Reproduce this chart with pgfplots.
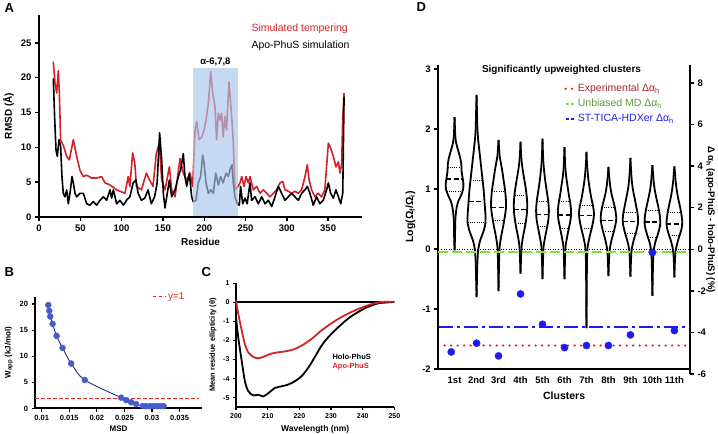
\documentclass[border=0pt]{standalone}
\usepackage{pgfplots}
\usepackage{pgfplotstable}
\pgfplotsset{compat=1.18}
\usepackage{fontspec}
\setmainfont{Liberation Sans}
\definecolor{stred}{RGB}{212,32,42}
\definecolor{rectblue}{RGB}{168,198,236}
\definecolor{bdot}{RGB}{72,92,200}
\definecolor{bline}{RGB}{35,45,140}
\definecolor{dblue}{RGB}{28,28,240}
\definecolor{dgreen}{RGB}{128,226,52}
\definecolor{dgreentext}{RGB}{96,152,56}
\definecolor{dredtext}{RGB}{165,42,42}
\definecolor{dred}{RGB}{232,30,30}
\definecolor{cred}{RGB}{215,35,40}
\newcommand{\tf}[1]{\fontsize{#1}{#1}\selectfont\bfseries}
\pgfplotsset{
  gp/.style={
    scale only axis, anchor=south west,
    axis x line*=bottom, axis y line*=left,
    axis line style={line width=2pt, -},
    tick align=outside, major tick length=4pt,
    tick style={line width=1.4pt, black},
    /pgf/number format/assume math mode=true,
    clip=false,
  },
  vio/.style={black, line width=1.8pt, smooth, tension=0.5, line join=round},
}
\begin{document}
\pgfplotstableread{
r v
17.3 22.3
19.4 19.2
21.4 17.8
23.4 21.0
24.6 17.8
26.2 11.1
29.4 10.3
33.5 8.7
36.7 8.2
41.6 11.1
45.6 8.7
49.6 6.7
53.7 5.8
57.7 6.0
63.7 5.6
69.8 5.6
75.9 5.8
79.9 4.9
86 4.6
94 3.9
98 3.7
104 3.4
108 5.8
110 4.4
113.4 9.2
116 7.7
118 4.4
124 3.9
130 6.3
134 5.3
138 4.4
142 9.1
145.6 10.6
148.5 5.3
152.5 3.9
157.8 7.2
160.6 3.9
164.7 2.9
170.7 8.4
174.7 6.3
178.8 5.3
182.8 6.3
186 4.4
188.9 12.5
190.9 13.7
193.7 11.1
197 11.5
199.8 12.5
202.2 13.9
205 16.3
207.8 20.9
210.2 17.8
213 15.9
215 11.1
217 14.9
219 13.9
221 14.9
223 11.5
225 14.4
227 12.5
230 19.4
232 16.3
233.6 13.9
235.2 10.6
237.2 3.9
241 4.4
243.3 4.9
245.4 5.8
248.2 4.4
250.6 5.8
253.4 4.9
255.4 5.8
259.5 3.9
263.5 4.4
267.6 3.4
271.6 3.9
275.6 3.4
279.6 2.9
283.7 3.4
287.7 3.9
291.7 4.9
295 5.1
297.8 3.9
301.8 3.7
305.8 3.4
309.8 3.7
313.9 3.4
317.9 3.9
322 5.8
324.8 7.5
327 5.3
330 3.9
334 2.9
338 3.4
342 2.9
346 3.9
350.3 10.6
353.1 9.9
356.3 8.7
359.5 7.2
362.4 7.9
364.4 6.3
366.4 7.7
367.7 14.4
369.3 17.8
}\redA
\pgfplotstableread{
r v
17.3 19.9
18.9 14.4
20.6 9.6
22.2 8.7
24.2 11.1
26.2 10.2
27.8 5.8
29.4 3.4
31.5 2.9
33.5 3.9
35.5 1.9
37.5 3.4
40 5.8
41.6 4.9
43.6 3.4
45.6 2.9
49.6 3.4
53.7 3.4
57.7 1.9
61.7 1.7
65.8 2.2
69.8 1.7
73.8 2.4
77.9 2.9
81.9 2.4
86 3.9
87.9 2.7
90 3.9
94 1.9
98 2.4
102 1.7
106 2.4
110 2.9
114 4.9
117.4 5.3
120 3.4
124 2.4
128 2.7
132 3.9
136 1.9
140 2.9
143 4.9
146 12.1
148.5 8.2
150.5 3.4
152.5 1.3
155.3 3.4
157.8 5.3
160.6 2.9
164.7 3.9
168.7 5.8
171.5 6.8
174.7 9.1
176.7 5.8
178.8 4.4
182 6.3
184.8 2.9
186.8 2.2
190 2.4
192.9 4.9
195.7 5.8
198.1 8.9
199.8 7.7
202.2 4.9
205 3.4
207.8 3.9
211 3.4
214 6.3
217 4.6
219.9 5.8
223 4.9
226.4 6.3
229.2 5.8
231.2 6.8
233.6 7.5
235.2 4.9
237.2 2.9
240 1.9
242.5 1.7
244 4.4
246.6 1.9
249.4 2.7
252 1.9
255.4 4.9
257.4 2.4
261.5 2.9
265.5 1.9
269.6 2.9
273.6 1.9
277.6 2.4
281.7 1.5
285.7 2.9
289.7 4.4
293.7 3.4
297.8 2.4
301.8 2.9
305.8 3.4
309.8 2.9
313.9 2.4
317.9 3.4
322 3.9
324.8 4.4
328 3.4
332 1.7
336 2.9
340 1.9
344 2.4
348.2 3.9
350.3 4.9
353.1 3.4
356.3 2.7
359.5 3.9
362.4 2.9
365.2 1.9
367.7 3.4
369.3 17.3
}\blackA
\pgfplotstableread{
m w
0.01120 19.8
0.01138 18.7
0.01156 17.6
0.01198 16.2
0.01270 13.9
0.01378 11.6
0.01535 8.6
0.01781 5.45
0.02441 2.07
0.02532 1.6
0.02622 1.2
0.02712 0.86
0.02832 0.48
0.02892 0.45
0.02964 0.45
0.03030 0.45
0.03090 0.45
0.03150 0.45
0.03210 0.45
}\ptsB
\pgfplotstableread{
l v
200 -0.77
200.7 -1.83
201.8 -3.07
202.8 -4.13
203.9 -4.66
205.5 -4.88
207 -4.84
208.6 -4.93
210.2 -4.76
212.3 -4.49
214.4 -4.40
216.5 -4.31
218.6 -4.13
220.7 -3.87
222.8 -3.43
224.9 -2.86
227 -2.27
229.1 -1.83
232.3 -1.30
235.4 -0.85
238.6 -0.50
241.7 -0.23
244.9 -0.05
248 0.0
250 0.02
}\holoC
\pgfplotstableread{
l v
200 0.09
200.7 -0.59
201.8 -1.47
202.8 -2.18
203.9 -2.63
205.5 -2.86
207 -2.93
208.6 -2.86
210.7 -2.71
212.8 -2.63
215.5 -2.57
218.1 -2.47
220.7 -2.27
223.9 -1.91
227 -1.47
230.2 -1.09
233.3 -0.77
236.5 -0.50
239.7 -0.27
242.8 -0.09
246 0.02
248 0.03
250 0.03
}\apoC
% violin half-width profiles (y, half width in cluster units)
\pgfplotstableread{
y w
-0.02 0
0.2 0.02
0.45 0.03
0.6 0.06
0.7 0.1
0.8 0.17
0.9 0.3
1.0 0.39
1.1 0.40
1.2 0.36
1.3 0.32
1.4 0.31
1.5 0.27
1.6 0.2
1.7 0.12
1.8 0.06
1.9 0.03
2.2 0
}\vA
\pgfplotstableread{
y w
-0.8 0
-0.5 0.02
-0.2 0.04
0 0.08
0.15 0.17
0.3 0.32
0.45 0.41
0.6 0.4
0.8 0.36
1.0 0.32
1.2 0.26
1.4 0.2
1.6 0.14
1.8 0.08
2.0 0.04
2.3 0.02
2.57 0
}\vB
\pgfplotstableread{
y w
-0.7 0
-0.3 0.02
0 0.04
0.1 0.07
0.25 0.14
0.4 0.22
0.55 0.29
0.7 0.34
0.85 0.33
1.0 0.29
1.15 0.23
1.3 0.17
1.45 0.1
1.55 0.05
1.65 0.03
1.82 0
}\vC
\pgfplotstableread{
y w
-0.41 0
-0.1 0.03
0.05 0.05
0.2 0.11
0.35 0.19
0.5 0.26
0.65 0.3
0.8 0.3
0.95 0.26
1.1 0.2
1.25 0.13
1.4 0.07
1.55 0.03
1.79 0
}\vD
\pgfplotstableread{
y w
-0.5 0
-0.1 0.03
0.05 0.05
0.2 0.12
0.35 0.2
0.5 0.27
0.65 0.29
0.8 0.26
0.95 0.2
1.1 0.14
1.25 0.09
1.4 0.05
1.55 0.025
1.84 0
}\vE
\pgfplotstableread{
y w
-0.5 0
-0.1 0.03
0.05 0.05
0.2 0.12
0.35 0.2
0.5 0.28
0.62 0.3
0.75 0.27
0.9 0.2
1.05 0.14
1.2 0.08
1.35 0.04
1.5 0.02
1.7 0
}\vF
\pgfplotstableread{
y w
-1.32 0
-0.5 0.015
-0.1 0.03
0.05 0.06
0.2 0.14
0.35 0.24
0.5 0.32
0.6 0.34
0.72 0.3
0.85 0.22
1.0 0.15
1.15 0.09
1.3 0.05
1.45 0.02
1.62 0
}\vG
\pgfplotstableread{
y w
-0.45 0
-0.15 0.03
0.0 0.06
0.15 0.14
0.3 0.25
0.45 0.34
0.55 0.35
0.68 0.3
0.8 0.22
0.92 0.14
1.05 0.08
1.2 0.035
1.37 0
}\vH
\pgfplotstableread{
y w
-0.46 0
-0.15 0.03
0.0 0.06
0.15 0.15
0.3 0.27
0.45 0.35
0.58 0.33
0.7 0.27
0.85 0.19
1.0 0.11
1.15 0.06
1.3 0.03
1.52 0
}\vI
\pgfplotstableread{
y w
-0.78 0
-0.3 0.025
-0.05 0.05
0.1 0.12
0.25 0.25
0.4 0.35
0.55 0.34
0.7 0.27
0.85 0.18
1.0 0.1
1.15 0.05
1.25 0.03
1.4 0
}\vJ
\pgfplotstableread{
y w
-0.47 0
-0.15 0.03
0.0 0.07
0.15 0.17
0.3 0.3
0.42 0.36
0.55 0.33
0.7 0.26
0.85 0.17
1.0 0.1
1.15 0.05
1.25 0.03
1.38 0
}\vK
\pgfplotstableread{
x y u
0.63 1.17 0.74
1.64 0.79 0.72
2.66 0.69 0.68
3.70 0.66 0.60
4.72 0.58 0.56
5.71 0.57 0.58
6.67 0.56 0.66
7.66 0.48 0.68
8.65 0.46 0.70
9.65 0.45 0.70
10.64 0.42 0.72
}\medD
\pgfplotstableread{
x y u
0.685 1.36 0.63
0.64 0.97 0.72
1.72 1.14 0.56
1.60 0.44 0.80
2.70 0.96 0.60
2.74 0.48 0.52
3.73 0.90 0.54
3.77 0.43 0.46
4.74 0.80 0.52
4.79 0.37 0.42
5.75 0.79 0.50
5.80 0.35 0.40
6.71 0.73 0.58
6.77 0.34 0.46
7.70 0.69 0.60
7.76 0.29 0.48
8.69 0.62 0.62
8.76 0.26 0.48
9.70 0.64 0.60
9.80 0.19 0.40
10.70 0.61 0.60
10.77 0.22 0.46
}\quaD
\begin{tikzpicture}[x=1pt,y=1pt]
\path[use as bounding box] (0,0) rectangle (718,434);
% ---------------- Panel A ----------------
\begin{axis}[gp, at={(39pt,217pt)}, width=323pt, height=202pt,
  xmin=0, xmax=391, ymin=0, ymax=29,
  xtick={0,50,...,350}, ytick={0,5,10,15,20,25},
  tick label style={font=\tf{9.5}},
  xlabel={Residue}, ylabel={RMSD (Å)},
  label style={font=\tf{10}},
  axis on top]
\addplot[stred, line width=1.6pt, line join=round] table[x=r,y=v]{\redA};
\addplot[black, line width=1.6pt, line join=round] table[x=r,y=v]{\blackA};
\addplot[draw=none, fill=rectblue, fill opacity=0.66] coordinates {(186,0)(186,21.4)(241.3,21.4)(241.3,0)} -- cycle;
\node[anchor=south, font=\tf{9.5}, inner sep=1.5pt] at (axis cs:213.6,21.4) {α-6,7,8};
\end{axis}
\node[anchor=west, text=stred, font=\fontsize{10.5}{12}\selectfont] at (248,405) {Simulated tempering};
\node[anchor=west, font=\fontsize{10.5}{12}\selectfont] at (248,388) {Apo-PhuS simulation};
% ---------------- Panel B ----------------
\begin{axis}[gp, at={(35pt,25.5pt)}, width=167pt, height=111.8pt,
  xmin=0.00879, xmax=0.03906, ymin=0, ymax=21.4,
  scaled x ticks=false,
  xtick={0.01,0.015,0.02,0.025,0.03,0.035},
  xticklabels={0.01,0.015,0.02,0.025,0.03,0.035},
  ytick={0,5,10,15,20},
  tick label style={font=\tf{7.5}},
  major tick length=3.5pt, tick style={line width=1.2pt},
  xlabel={MSD}, ylabel={W\textsubscript{app} (kJ/mol)},
  label style={font=\tf{8}},
  xlabel style={yshift=2pt},
  legend style={draw=none, fill=none, at={(0.70,1.0)}, anchor=west,
    font=\fontsize{10}{11}\selectfont, inner sep=0pt},
  legend image code/.code={\draw[#1] (0pt,0pt) -- (13pt,0pt);}]
\addplot[dred, line width=1pt, dash pattern=on 3.5pt off 2.5pt] coordinates {(0.00879,2.0)(0.0385,2.0)};
\addlegendentry{\textcolor{dred}{y=1}}
\addplot[bline, line width=0.9pt, smooth, forget plot] table[x=m,y=w]{\ptsB};
\addplot[only marks, mark=*, mark size=3pt, bdot, forget plot] table[x=m,y=w]{\ptsB};
\end{axis}
% ---------------- Panel C ----------------
\begin{axis}[gp, at={(236pt,27.3pt)}, width=158.4pt, height=123.4pt,
  xmin=200, xmax=250, ymin=-5.47, ymax=1,
  xtick={200,210,220,230,240,250}, ytick={-5,-4,-3,-2,-1,0,1},
  tick label style={font=\tf{7}},
  major tick length=3pt, tick style={line width=1.2pt},
  axis line style={line width=1.8pt},
  xlabel={Wavelength (nm)}, ylabel={Mean residue ellipticity (θ)},
  xlabel style={font=\tf{8.5}}, ylabel style={font=\tf{7.5}}]
\addplot[black, line width=1.8pt] coordinates {(200,0)(250,0)};
\addplot[black, line width=1.8pt, smooth] table[x=l,y=v]{\holoC};
\addplot[cred, line width=1.8pt, smooth] table[x=l,y=v]{\apoC};
\end{axis}
\node[anchor=west, font=\tf{7.5}] at (329,77) {Holo-PhuS};
\node[anchor=west, font=\tf{7.5}, text=cred] at (329,67) {Apo-PhuS};
% ---------------- Panel D (left axis) ----------------
\begin{axis}[gp, at={(438.3pt,65pt)}, width=251.7pt, height=304pt,
  xmin=0.26, xmax=11.71, ymin=-2, ymax=3.07,
  xtick={1,...,11}, xticklabels={1st,2nd,3rd,4th,5th,6th,7th,8th,9th,10th,11th},
  xtick style={draw=none},
  ytick={-2,-1,0,1,2,3},
  tick label style={font=\tf{9.5}},
  xlabel={Clusters}, ylabel={Log(Ω\textsubscript{f}/Ω\textsubscript{i})},
  label style={font=\tf{10.5}},
  xlabel style={yshift=-2pt}]
\addplot[black, line width=1pt, dash pattern=on 1pt off 1.6pt] coordinates {(0.26,0)(11.71,0)};
\addplot[vio] table[x expr=1+\thisrow{w}, y=y]{\vA};
\addplot[vio] table[x expr=1-\thisrow{w}, y=y]{\vA};
\addplot[vio] table[x expr=2+\thisrow{w}, y=y]{\vB};
\addplot[vio] table[x expr=2-\thisrow{w}, y=y]{\vB};
\addplot[vio] table[x expr=3+\thisrow{w}, y=y]{\vC};
\addplot[vio] table[x expr=3-\thisrow{w}, y=y]{\vC};
\addplot[vio] table[x expr=4+\thisrow{w}, y=y]{\vD};
\addplot[vio] table[x expr=4-\thisrow{w}, y=y]{\vD};
\addplot[vio] table[x expr=5+\thisrow{w}, y=y]{\vE};
\addplot[vio] table[x expr=5-\thisrow{w}, y=y]{\vE};
\addplot[vio] table[x expr=6+\thisrow{w}, y=y]{\vF};
\addplot[vio] table[x expr=6-\thisrow{w}, y=y]{\vF};
\addplot[vio] table[x expr=7+\thisrow{w}, y=y]{\vG};
\addplot[vio] table[x expr=7-\thisrow{w}, y=y]{\vG};
\addplot[vio] table[x expr=8+\thisrow{w}, y=y]{\vH};
\addplot[vio] table[x expr=8-\thisrow{w}, y=y]{\vH};
\addplot[vio] table[x expr=9+\thisrow{w}, y=y]{\vI};
\addplot[vio] table[x expr=9-\thisrow{w}, y=y]{\vI};
\addplot[vio] table[x expr=10+\thisrow{w}, y=y]{\vJ};
\addplot[vio] table[x expr=10-\thisrow{w}, y=y]{\vJ};
\addplot[vio] table[x expr=11+\thisrow{w}, y=y]{\vK};
\addplot[vio] table[x expr=11-\thisrow{w}, y=y]{\vK};
\addplot[black, line width=1.5pt, dash pattern=on 5pt off 2.5pt, quiver={u=\thisrow{u}, v=0}] table[x=x,y=y]{\medD};
\addplot[black, line width=0.8pt, dash pattern=on 0.8pt off 1.4pt, quiver={u=\thisrow{u}, v=0}] table[x=x,y=y]{\quaD};
\end{axis}
% ---------------- Panel D (right axis) ----------------
\begin{axis}[scale only axis, anchor=south west, at={(438.3pt,60pt)}, width=251.7pt, height=309pt,
  xmin=0.26, xmax=11.71, ymin=-6, ymax=8.86,
  axis x line=none, axis y line*=right, xtick=\empty,
  axis line style={line width=2pt, -},
  tick align=outside, major tick length=4pt, tick style={line width=1.4pt, black},
  ytick={-6,-4,-2,0,2,4,6,8},
  /pgf/number format/assume math mode=true,
  tick label style={font=\tf{9.5}},
  ylabel={Δ α\textsubscript{h} (apo-PhuS - holo-PhuS) (\%)},
  ylabel style={font=\tf{9.5}, at={(axis description cs:1.082,0.5)}, anchor=center, rotate=180},
  clip=false,
  legend style={draw=none, fill=none, at={(0.5,0.945)}, anchor=north west,
    font=\fontsize{10.5}{12}\selectfont, inner sep=0pt, row sep=2pt},
  legend cell align=left,
  legend image code/.code={\draw[#1] (0pt,0pt) -- (9pt,0pt);}]
\addplot[dred, line width=2.4pt, line cap=round, dash pattern=on 0pt off 6.5pt] coordinates {(0.55,-4.63)(11.71,-4.63)};
\addlegendentry{\textcolor{dredtext}{Experimental Δα\textsubscript{h}}}
\addplot[dgreen, line width=2pt, dash pattern=on 10pt off 4pt, legend image post style={dash pattern=on 3pt off 2.5pt}] coordinates {(0.26,-0.14)(11.71,-0.14)};
\addlegendentry{\textcolor{dgreentext}{Unbiased MD Δα\textsubscript{h}}}
\addplot[dblue, line width=2.5pt, dash pattern=on 14pt off 4pt on 3pt off 4pt, legend image post style={dash pattern=on 3pt off 2.5pt}] coordinates {(0.3,-3.75)(11.71,-3.75)};
\addlegendentry{\textcolor{dblue}{ST-TICA-HDXer Δα\textsubscript{h}}}
\addplot[only marks, mark=*, mark size=3.6pt, dblue, forget plot] coordinates {(0.85,-4.94)(2,-4.52)(3,-5.13)(4,-2.15)(5,-3.61)(6,-4.73)(7,-4.63)(8,-4.63)(9,-4.12)(10,-0.16)(11,-3.91)};
\end{axis}
\node[font=\tf{10}] at (561.5,364) {Significantly upweighted clusters};
% panel letters
\node[anchor=west, font=\tf{13}] at (1,426) {A};
\node[anchor=west, font=\tf{13}] at (1,162) {B};
\node[anchor=west, font=\tf{13}] at (198,162) {C};
\node[anchor=west, font=\tf{13}] at (413,427) {D};
\end{tikzpicture}
\end{document}
